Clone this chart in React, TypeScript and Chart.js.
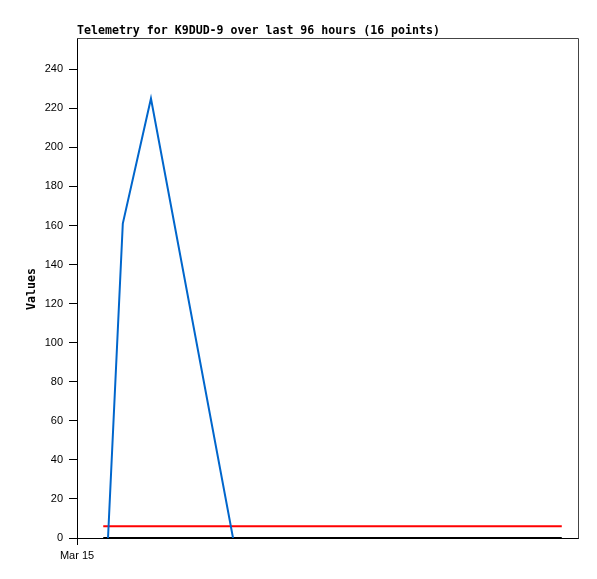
import React, { useEffect, useRef } from "react";
import { Chart, registerables } from "chart.js";

Chart.register(...registerables);

const TITLE = "Telemetry for K9DUD-9 over last 96 hours (16 points)";
const Y_TITLE = "Values";
const X_TICK_LABEL = "Mar 15";

// hours since Mar 15 00:00
const blueHours = [6.5, 9.6, 15.5, 32.7];
const blueValues = [0, 161, 225, 0];
const redHours = [5.5, 101.6];
const redValues = [6, 6];
const blackHours = [5.5, 101.6];
const blackValues = [0, 0];
const yTicks = [0, 20, 40, 60, 80, 100, 120, 140, 160, 180, 200, 220, 240];

const toPts = (xs: number[], ys: number[]) => xs.map((x, i) => ({ x, y: ys[i] }));

const decor = {
  id: "decor",
  beforeDatasetsDraw(chart: any) {
    const { ctx, chartArea } = chart;
    ctx.save();
    ctx.strokeStyle = "#444";
    ctx.lineWidth = 1;
    ctx.beginPath();
    ctx.moveTo(chartArea.left, chartArea.top + 0.5);
    ctx.lineTo(chartArea.right + 0.5, chartArea.top + 0.5);
    ctx.lineTo(chartArea.right + 0.5, chartArea.bottom + 0.5);
    ctx.stroke();
    ctx.restore();
  },
  afterDraw(chart: any) {
    const { ctx, chartArea } = chart;
    ctx.save();
    ctx.fillStyle = "#000";
    ctx.font = "bold 11.6px 'DejaVu Sans Mono'";
    ctx.textAlign = "left";
    ctx.textBaseline = "middle";
    ctx.fillText(TITLE, chartArea.left, 31);
    ctx.translate(32, 289);
    ctx.rotate(-Math.PI / 2);
    ctx.textAlign = "center";
    ctx.fillText(Y_TITLE, 0, 0);
    ctx.restore();
  },
};

export default function App() {
  const ref = useRef<HTMLCanvasElement>(null);
  useEffect(() => {
    if (!ref.current) return;
    const chart = new Chart(ref.current, {
      type: "line",
      data: {
        datasets: [
          { data: toPts(blackHours, blackValues), borderColor: "#000", borderWidth: 2, pointRadius: 0, order: 3 },
          { data: toPts(redHours, redValues), borderColor: "#ff0000", borderWidth: 2, pointRadius: 0, order: 2 },
          { data: toPts(blueHours, blueValues), borderColor: "#0066cc", borderWidth: 2, pointRadius: 0, order: 1 },
        ],
      },
      options: {
        responsive: false,
        animation: false,
        layout: { padding: { left: 0, top: 38, right: 19, bottom: 0 } },
        plugins: { legend: { display: false }, tooltip: { enabled: false }, title: { display: false } },
        scales: {
          x: {
            type: "linear",
            min: 0,
            max: 105,
            afterFit: (s: any) => { s.height = 41; },
            afterBuildTicks: (s: any) => { s.ticks = [{ value: 0 }]; },
            grid: { drawOnChartArea: false, drawTicks: true, tickLength: 7, color: "#000" },
            border: { color: "#000", width: 1 },
            ticks: {
              callback: () => X_TICK_LABEL,
              color: "#000",
              font: { family: "'Liberation Sans'", size: 11 },
              padding: 4,
              maxRotation: 0,
            },
          },
          y: {
            type: "linear",
            min: 0,
            max: 256,
            afterFit: (s: any) => { s.width = 77; },
            afterBuildTicks: (s: any) => { s.ticks = yTicks.map((v) => ({ value: v })); },
            grid: { drawOnChartArea: false, drawTicks: true, tickLength: 8, color: "#000" },
            border: { color: "#000", width: 1 },
            ticks: {
              color: "#000",
              font: { family: "'Liberation Sans'", size: 11 },
              padding: 6,
            },
          },
        },
      },
      plugins: [decor],
    });
    return () => chart.destroy();
  }, []);
  return (
    <div style={{ position: "absolute", left: 0, top: 0, width: 597, height: 579, background: "#fff" }}>
      <canvas ref={ref} width={597} height={579} style={{ width: 597, height: 579 }} />
    </div>
  );
}
